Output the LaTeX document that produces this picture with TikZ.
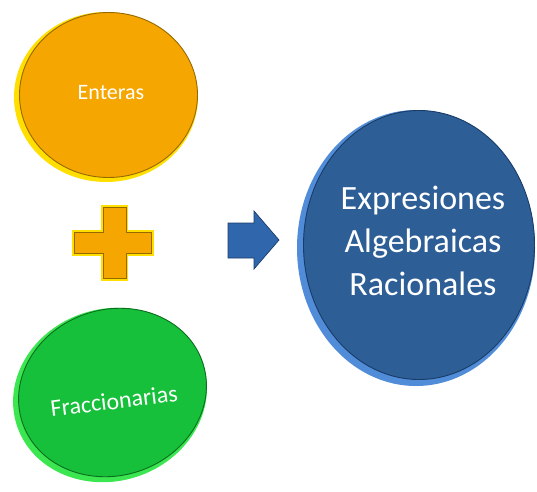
\documentclass[tikz,border=0pt]{standalone}
\usepackage{fontspec}
\setmainfont{Carlito}
\definecolor{orfill}{RGB}{246,166,0}
\definecolor{orrim}{RGB}{255,222,0}
\definecolor{ordark}{RGB}{150,105,0}
\definecolor{grfill}{RGB}{22,192,58}
\definecolor{grrim}{RGB}{60,230,80}
\definecolor{grdark}{RGB}{10,110,30}
\definecolor{blfill}{RGB}{45,94,150}
\definecolor{blrim}{RGB}{80,140,215}
\definecolor{bldark}{RGB}{25,60,105}
\definecolor{arfill}{RGB}{48,102,172}
\tikzset{
  lbl/.style={text=white, align=center, inner sep=0pt}
}
\begin{document}
\begin{tikzpicture}[x=1pt,y=1pt]
\useasboundingbox (0,0) rectangle (537,491);
% orange ellipse
\fill[orrim] (106,394) ellipse [x radius=92, y radius=85];
\filldraw[fill=orfill, draw=ordark, line width=0.9pt] (108.5,396) ellipse [x radius=89, y radius=82.5];
\node[lbl, font=\fontsize{22}{24}\selectfont] (ent) at (111,398) {Enteras};
% plus sign
\filldraw[fill=orrim, draw=orrim, line width=1.2pt]
  (102,211) -- (127,211) -- (127,236) -- (153,236) -- (153,260) -- (127,260)
  -- (127,285) -- (102,285) -- (102,260) -- (73,260) -- (73,236) -- (102,236) -- cycle;
\filldraw[fill=orfill, draw=ordark, line width=0.6pt]
  (103.5,213) -- (126,213) -- (126,237.5) -- (151.5,237.5) -- (151.5,259) -- (126,259)
  -- (126,284) -- (103.5,284) -- (103.5,259) -- (74.5,259) -- (74.5,237.5) -- (103.5,237.5) -- cycle;
% arrow
\filldraw[fill=arfill, draw=bldark, line width=0.7pt]
  (228,233) -- (254,233) -- (254,222) -- (279,251) -- (254,280) -- (254,268) -- (228,268) -- cycle;
% green ellipse
\fill[grrim, rotate around={18:(110,96)}] (110,96) ellipse [x radius=98, y radius=86];
\filldraw[fill=grfill, draw=grdark, line width=0.9pt, rotate around={18:(112.5,98.5)}] (112.5,98.5) ellipse [x radius=95, y radius=83];
\node[lbl, font=\fontsize{24}{26}\selectfont, rotate=7] (fra) at (114,90) {Fraccionarias};
% blue ellipse
\fill[blrim] (416,243) ellipse [x radius=119, y radius=138];
\filldraw[fill=blfill, draw=bldark, line width=0.9pt] (419,246) ellipse [x radius=115.5, y radius=134.5];
\node[lbl, font=\fontsize{34}{43}\selectfont] (exp) at (423,250) {Expresiones\\Algebraicas\\Racionales};
\end{tikzpicture}
\end{document}
